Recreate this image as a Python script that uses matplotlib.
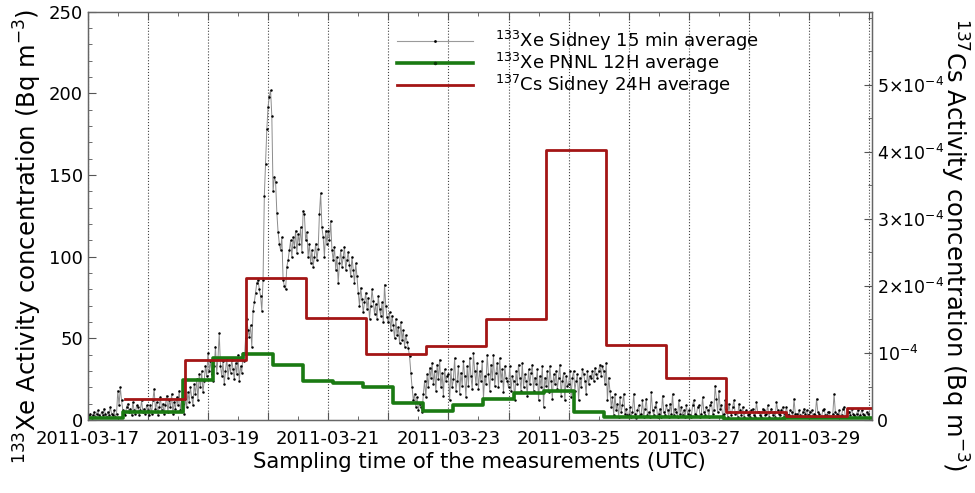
import numpy as np
import pandas as pd
import matplotlib
matplotlib.use('Agg')
import matplotlib.pyplot as plt
import matplotlib.dates as mdates
from matplotlib.lines import Line2D
from matplotlib.ticker import FixedLocator, FixedFormatter, MultipleLocator, FuncFormatter

matplotlib.rcParams['font.family'] = 'DejaVu Sans'
matplotlib.rcParams['mathtext.default'] = 'regular'

# 133Xe Sidney, values every half hour (Bq m-3)
xe_start = '2011-03-17 00:00'
d17 = [2, 3, 4, 1, 3, 5, 2, 4, 6, 3, 2, 5, 3, 7, 4, 2, 5, 3, 8, 4, 3, 6, 2, 4,
       18, 9, 20, 12, 6, 4, 3, 8, 10, 5, 7, 3, 11, 6, 4, 9, 8, 3, 6, 12, 5, 7, 4, 9]
d18 = [6, 3, 9, 4, 12, 19, 7, 11, 3, 8, 14, 6, 10, 4, 9, 15, 5, 12, 8, 16, 4, 11, 7, 14,
       9, 18, 6, 12, 10, 4, 13, 8, 17, 11, 20, 14, 9, 22, 16, 25, 12, 28, 20, 30, 17, 24, 33, 27]
d19 = [41, 30, 36, 28, 24, 33, 45, 29, 38, 53, 33, 27, 36, 22, 30, 38, 26, 34, 29, 37, 31, 25, 35, 28,
       40, 24, 33, 29, 41, 36, 50, 62, 55, 51, 58, 45, 67, 72, 78, 84, 86, 80, 76, 67, 86, 137, 157, 178]
d20 = [192, 198, 202, 186, 140, 149, 146, 127, 115, 108, 104, 112, 86, 82, 80, 94, 98, 104, 110, 100, 112, 106, 116, 102,
       114, 108, 118, 103, 128, 126, 110, 115, 100, 108, 96, 104, 94, 100, 108, 98, 105, 126, 139, 118, 112, 100, 116, 108]
d21 = [116, 110, 122, 104, 98, 106, 92, 100, 84, 96, 104, 94, 100, 106, 92, 98, 103, 95, 88, 100, 92, 84, 96, 88,
       78, 70, 81, 74, 66, 72, 78, 68, 75, 62, 70, 80, 73, 65, 71, 62, 76, 68, 64, 72, 60, 83, 70, 63]
d22 = [60, 66, 55, 64, 58, 50, 62, 52, 57, 47, 60, 49, 55, 45, 52, 48, 44, 39, 29, 20, 12, 16, 8, 14,
       6, 10, 8, 5, 16, 24, 14, 28, 20, 32, 26, 35, 22, 30, 18, 34, 25, 37, 20, 29, 15, 31, 24, 27]
d23 = [28, 12, 31, 20, 25, 38, 18, 24, 33, 16, 29, 21, 36, 27, 14, 33, 21, 38, 27, 19, 41, 30, 22, 35,
       19, 30, 24, 36, 13, 27, 22, 40, 28, 18, 34, 25, 40, 21, 29, 35, 20, 38, 24, 31, 17, 33, 26, 24]
d24 = [20, 33, 18, 27, 24, 12, 30, 22, 34, 26, 18, 35, 20, 28, 24, 15, 31, 22, 29, 34, 18, 26, 22, 31,
       12, 27, 20, 33, 8, 26, 21, 30, 17, 33, 24, 13, 28, 22, 30, 19, 26, 34, 15, 24, 29, 12, 27, 21]
d25 = [22, 30, 14, 26, 30, 18, 24, 28, 12, 26, 20, 31, 28, 24, 16, 30, 22, 27, 26, 30, 24, 32, 28, 26,
       30, 34, 27, 33, 30, 22, 35, 12, 26, 18, 8, 14, 3, 16, 6, 10, 2, 14, 5, 9, 16, 4, 7, 3]
d26 = [3, 8, 2, 5, 16, 4, 1, 6, 9, 3, 4, 12, 2, 7, 13, 3, 5, 2, 17, 6, 3, 8, 11, 2,
       4, 7, 2, 15, 5, 3, 9, 6, 2, 10, 4, 16, 3, 7, 5, 2, 12, 4, 8, 3, 6, 2, 9, 4]
d27 = [6, 3, 2, 9, 12, 4, 3, 8, 9, 2, 4, 14, 5, 3, 8, 6, 2, 9, 11, 4, 6, 21, 13, 5,
       18, 7, 9, 3, 4, 12, 7, 2, 10, 5, 3, 8, 12, 4, 5, 2, 10, 6, 3, 8, 2, 5, 6, 3]
d28 = [4, 2, 6, 7, 3, 2, 11, 5, 5, 3, 2, 7, 6, 3, 4, 9, 2, 5, 7, 3, 5, 2, 11, 6,
       4, 3, 6, 8, 2, 4, 8, 3, 3, 6, 5, 2, 13, 4, 4, 2, 6, 3, 2, 5, 7, 4, 6, 3]
d29 = [3, 5, 6, 2, 4, 3, 13, 5, 4, 2, 2, 6, 7, 3, 3, 5, 5, 2, 2, 4, 16, 5, 4, 3,
       6, 2, 3, 7, 8, 2, 2, 5, 5, 3, 7, 4, 3, 2, 4, 6, 2, 3, 6, 4, 3, 2, 5, 4]
xe_sidney = d17 + d18 + d19 + d20 + d21 + d22 + d23 + d24 + d25 + d26 + d27 + d28 + d29

# 133Xe PNNL 12H averages (Bq m-3)
pnnl_start = '2011-03-16 14:00'
xe_pnnl = [1, 1, 5, 5, 24.5, 38, 40.5, 34, 24, 22.5, 20.3, 10.6, 5.5, 9.2, 12.7,
           16.5, 17.5, 5.1, 2.0, 2.0, 2.0, 2.0, 0.8, 0.8, 1.0, 1.0, 1.2, 1.0]

# 137Cs Sidney 24H averages (Bq m-3)
cs_start = '2011-03-17 15:00'
cs_sidney = [0.31e-4, 0.90e-4, 2.12e-4, 1.52e-4, 0.985e-4, 1.11e-4, 1.51e-4,
             4.03e-4, 1.12e-4, 0.63e-4, 0.124e-4, 0.06e-4, 0.18e-4]

cs_ticks = [0, 1e-4, 2e-4, 3e-4, 4e-4, 5e-4]
cs_ticklabels = ['0', r'$10^{-4}$', r'$2{\times}10^{-4}$', r'$3{\times}10^{-4}$',
                 r'$4{\times}10^{-4}$', r'$5{\times}10^{-4}$']

xe_time = pd.date_range(xe_start, periods=len(xe_sidney), freq='30min')
pnnl_edges = pd.date_range(pnnl_start, periods=len(xe_pnnl) + 1, freq='12h')
cs_edges = pd.date_range(cs_start, periods=len(cs_sidney) + 1, freq='24h')

fig = plt.figure(figsize=(9.75, 4.93), dpi=100)
ax = fig.add_axes([0.090, 0.148, 0.804, 0.828])
ax2 = ax.twinx()

ax.plot(xe_time, xe_sidney, color='#8c8c8c', lw=0.7, marker='o', ms=1.8,
        mfc='black', mec='black', mew=0, zorder=2)
ax.step(pnnl_edges, xe_pnnl + [xe_pnnl[-1]], where='post', color='#1a7a12', lw=2.6, zorder=3)
ax2.step(cs_edges, cs_sidney + [cs_sidney[-1]], where='post', color='#a31515', lw=2.0)

ax.set_xlim(pd.Timestamp('2011-03-17 00:00'), pd.Timestamp('2011-03-30 01:00'))
ax.set_ylim(0, 250)
ax2.set_ylim(0, 6.09e-4)

# x axis: gridline every day, label every other day, ticks every 12 h
ax.xaxis.set_major_locator(mdates.DayLocator())
ax.xaxis.set_minor_locator(mdates.HourLocator(byhour=[12]))
def day_label(x, pos):
    d = mdates.num2date(x)
    return d.strftime('%Y-%m-%d') if (d.day - 17) % 2 == 0 else ''
ax.xaxis.set_major_formatter(FuncFormatter(day_label))
ax.grid(axis='x', which='major', linestyle=':', color='#444444', lw=0.8)

ax.yaxis.set_major_locator(MultipleLocator(50))
ax.yaxis.set_minor_locator(MultipleLocator(10))
ax2.yaxis.set_major_locator(FixedLocator(cs_ticks))
ax2.yaxis.set_major_formatter(FixedFormatter(cs_ticklabels))
ax2.yaxis.set_minor_locator(MultipleLocator(0.5e-4))

ax.tick_params(axis='both', which='both', direction='in', colors='#555555',
               labelcolor='black', labelsize=13)
ax.tick_params(axis='x', which='both', top=True, pad=7)
ax.tick_params(axis='y', which='both', right=False)
ax.tick_params(which='major', length=6)
ax.tick_params(which='minor', length=3)
ax2.tick_params(axis='y', which='both', direction='in', colors='#555555',
                labelcolor='black', labelsize=12.5)
ax2.tick_params(which='major', length=6)
ax2.tick_params(which='minor', length=3)
for a in (ax, ax2):
    for s in a.spines.values():
        s.set_color('#666666')
        s.set_linewidth(0.9)

ax.set_xlabel('Sampling time of the measurements (UTC)', fontsize=15.3, labelpad=3)
ax.set_ylabel(r'$^{133}$Xe Activity concentration (Bq m$^{-3}$)', fontsize=17.5, labelpad=3)
ax2.set_ylabel(r'$^{137}$Cs Activity concentration (Bq m$^{-3}$)', fontsize=17.5,
               rotation=270, labelpad=19)
ax.yaxis.label.set_y(0.45)
ax2.yaxis.label.set_y(0.43)

handles = [
    Line2D([], [], color='#9a9a9a', lw=0.8, marker='o', ms=2.0, mfc='black', mec='black', mew=0),
    Line2D([], [], color='#1a7a12', lw=2.6, marker='o', ms=2.5, mfc='#0a3a06', mec='#0a3a06', mew=0),
    Line2D([], [], color='#a31515', lw=2.0),
]
labels = [r'$^{133}$Xe Sidney 15 min average',
          r'$^{133}$Xe PNNL 12H average',
          r'$^{137}$Cs Sidney 24H average']
ax2.legend(handles, labels, loc='upper left', bbox_to_anchor=(0.381, 0.985), frameon=False,
           fontsize=13, handlelength=4.2, labelspacing=-0.1, handletextpad=1.2,
           borderaxespad=0.2)

fig.savefig('out.png', dpi=100)
